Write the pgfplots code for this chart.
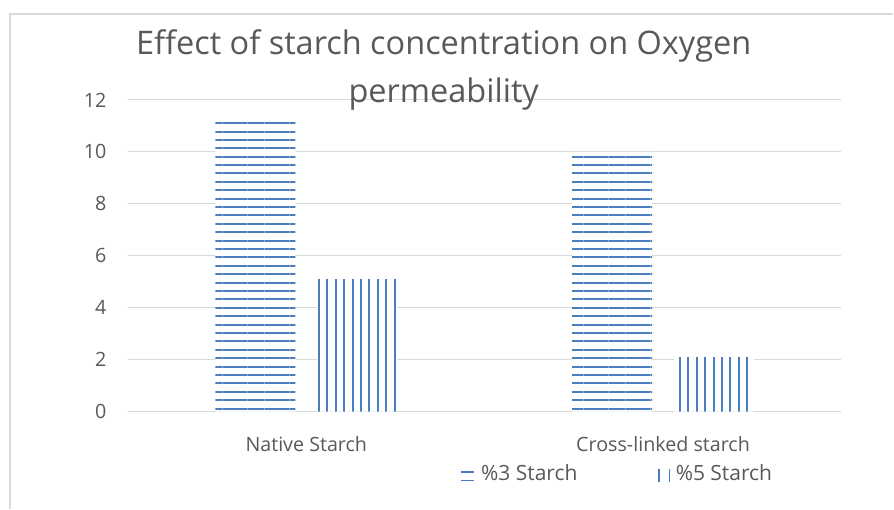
\documentclass[border=0pt]{standalone}
\usepackage{fontspec}
\setmainfont{Open Sans}
\usepackage{pgfplots}
\pgfplotsset{compat=1.18}
\usetikzlibrary{patterns.meta}
\definecolor{barblue}{HTML}{4A7EBE}
\definecolor{gridgray}{HTML}{D9D9D9}
\definecolor{textgray}{HTML}{595959}
\begin{document}
\begin{tikzpicture}[x=1pt,y=1pt]
\path[fill=white] (0,0) rectangle (894,509);
\draw[gridgray, line width=1.2pt] (10,0) -- (10,495) -- (894,495);
\begin{axis}[
  at={(128pt,97pt)}, anchor=south west,
  scale only axis, width=714pt, height=312pt,
  ymin=0, ymax=12, xmin=-0.5, xmax=1.5,
  ybar=22pt, bar width=80pt,
  xtick={0,1}, xticklabels={Native Starch, Cross-linked starch},
  ytick={0,2,4,6,8,10,12},
  ymajorgrids, grid style={color=gridgray, line width=1pt},
  axis line style={draw=none}, major tick length=0pt,
  tick label style={font=\fontsize{19.7}{23}\selectfont, text=textgray},
  /pgf/number format/assume math mode=true,
  yticklabel style={xshift=-18pt},
  xticklabel style={yshift=-21pt},
  legend style={at={(rel axis cs:0.6860,-0.199)}, anchor=center, draw=none, fill=none,
    legend columns=2, font=\fontsize{21}{24}\selectfont, text=textgray,
    /tikz/every odd column/.append style={column sep=4pt},
    /tikz/every even column/.append style={column sep=79pt}},
  legend cell align=left,
  clip=false,
]
\addplot[draw=none, fill=white, postaction={pattern={Lines[angle=0,distance=8.4pt,line width=2pt]}, pattern color=barblue},
  legend image code/.code={\draw[barblue, line width=1.5pt] (0pt,2pt) -- (13pt,2pt); \draw[barblue, line width=0.8pt] (0pt,-7pt) -- (13pt,-7pt);}]
  coordinates {(0,11.2) (1,10.0)};
\addlegendentry{\%3 Starch}
\addplot[draw=none, fill=white, postaction={pattern={Lines[angle=90,distance=8.4pt,line width=2pt]}, pattern color=barblue},
  legend image code/.code={\draw[barblue, line width=1.6pt] (1pt,-8pt) -- (1pt,5pt); \draw[barblue, line width=1pt] (11pt,-8pt) -- (11pt,5pt);}]
  coordinates {(0,5.1) (1,2.1)};
\addlegendentry{\%5 Starch}
\end{axis}
\node[anchor=base, text=textgray, font=\fontsize{32.5}{36}\selectfont] at (444,454) {Effect of starch concentration on Oxygen};
\node[anchor=base, text=textgray, font=\fontsize{32.5}{36}\selectfont] at (444,406) {permeability};
\end{tikzpicture}
\end{document}
